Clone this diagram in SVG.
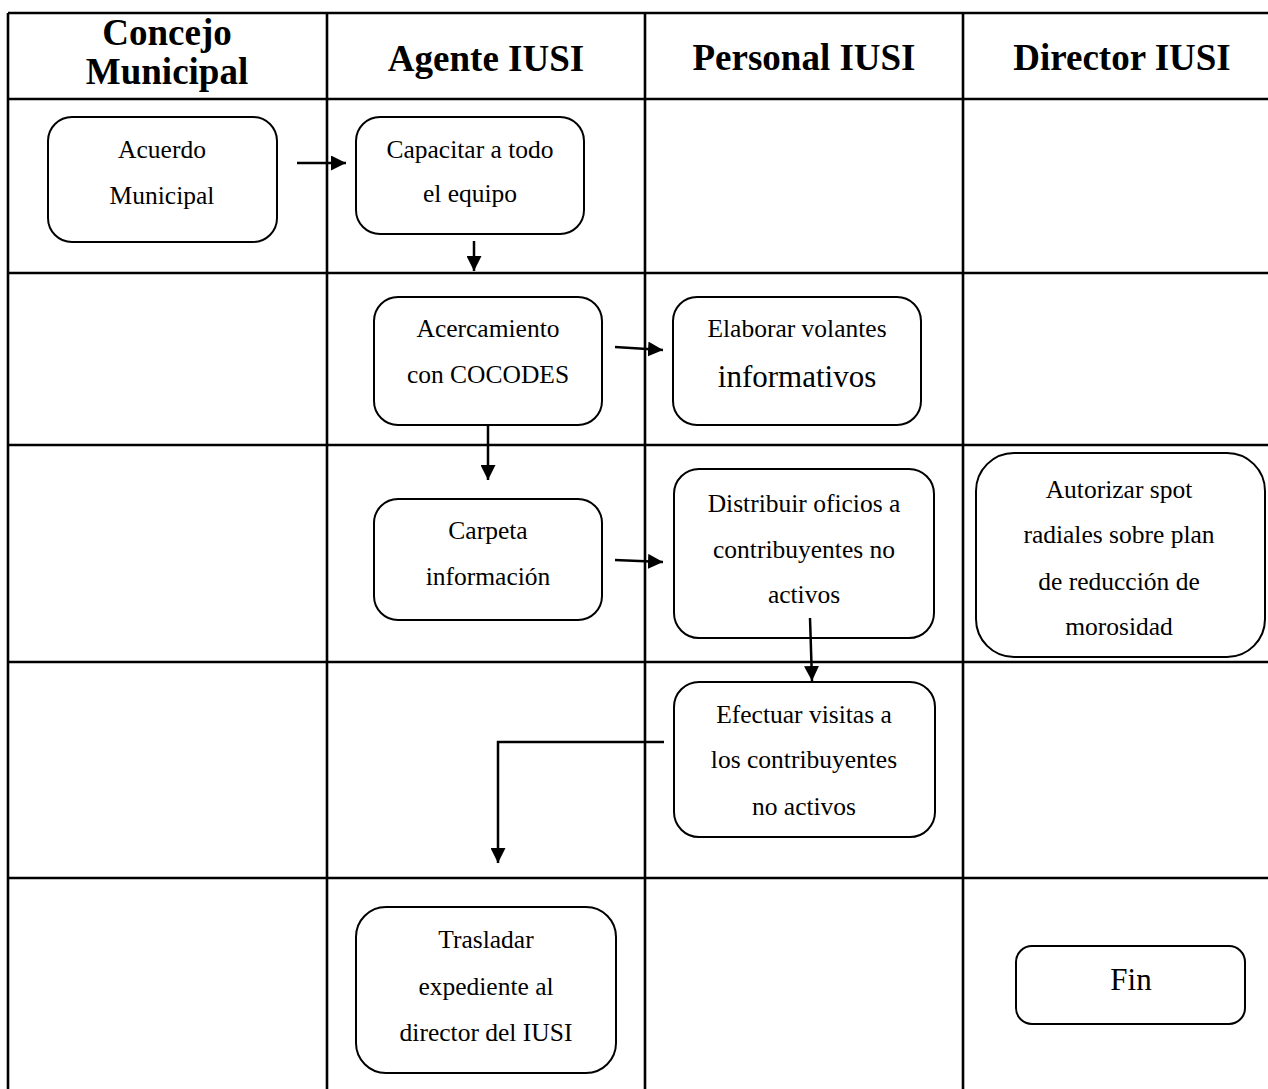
<svg xmlns="http://www.w3.org/2000/svg" width="1268" height="1089" viewBox="0 0 1268 1089">
<defs>
<marker id="ah" markerUnits="userSpaceOnUse" markerWidth="16" markerHeight="15" refX="15" refY="7.5" orient="auto">
<path d="M0,0 L15,7.5 L0,15 z" fill="#000"/>
</marker>
<style>
.grid{stroke:#000;stroke-width:2.6;fill:none}
.box{fill:#fff;stroke:#000;stroke-width:2}
.hd{font-family:"Liberation Serif","Times New Roman",serif;font-weight:bold;font-size:37px;fill:#000;text-anchor:middle}
.tx{font-family:"Liberation Serif","Times New Roman",serif;font-size:25.5px;fill:#000;text-anchor:middle}
.big{font-size:31px}
.cn{stroke:#000;stroke-width:2.5;fill:none;marker-end:url(#ah)}
</style>
</defs>
<rect width="1268" height="1089" fill="#fff"/>
<g id="table">
<path class="grid" d="M8,13 H1268 M8,99 H1268 M8,273 H1268 M8,445 H1268 M8,662 H1268 M8,878 H1268 M8,13 V1089 M327,13 V1089 M645,13 V1089 M963,13 V1089"/>
</g>
<g id="headers">
<text class="hd" x="167" y="45">Concejo</text>
<text class="hd" x="167" y="84">Municipal</text>
<text class="hd" x="486" y="71">Agente IUSI</text>
<text class="hd" x="804" y="70">Personal IUSI</text>
<text class="hd" x="1122" y="70">Director IUSI</text>
</g>
<g id="acuerdo">
<rect class="box" x="48" y="117" width="229" height="125" rx="24"/>
<text class="tx" x="162" y="158">Acuerdo</text>
<text class="tx" x="162" y="204">Municipal</text>
</g>
<g id="capacitar">
<rect class="box" x="356" y="117" width="228" height="117" rx="24"/>
<text class="tx" x="470" y="158">Capacitar a todo</text>
<text class="tx" x="470" y="202">el equipo</text>
</g>
<g id="acercamiento">
<rect class="box" x="374" y="297" width="228" height="128" rx="24"/>
<text class="tx" x="488" y="337">Acercamiento</text>
<text class="tx" x="488" y="383">con COCODES</text>
</g>
<g id="elaborar">
<rect class="box" x="673" y="297" width="248" height="128" rx="24"/>
<text class="tx" x="797" y="337">Elaborar volantes</text>
<text class="tx big" x="797" y="387">informativos</text>
</g>
<g id="carpeta">
<rect class="box" x="374" y="499" width="228" height="121" rx="24"/>
<text class="tx" x="488" y="539">Carpeta</text>
<text class="tx" x="488" y="585">información</text>
</g>
<g id="distribuir">
<rect class="box" x="674" y="469" width="260" height="169" rx="25"/>
<text class="tx" x="804" y="512">Distribuir oficios a</text>
<text class="tx" x="804" y="558">contribuyentes no</text>
<text class="tx" x="804" y="603">activos</text>
</g>
<g id="autorizar">
<rect class="box" x="976" y="453" width="289" height="204" rx="38"/>
<text class="tx" x="1119" y="498">Autorizar spot</text>
<text class="tx" x="1119" y="543">radiales sobre plan</text>
<text class="tx" x="1119" y="590">de reducción de</text>
<text class="tx" x="1119" y="635">morosidad</text>
</g>
<g id="efectuar">
<rect class="box" x="674" y="682" width="261" height="155" rx="25"/>
<text class="tx" x="804" y="723">Efectuar visitas a</text>
<text class="tx" x="804" y="768">los contribuyentes</text>
<text class="tx" x="804" y="815">no activos</text>
</g>
<g id="trasladar">
<rect class="box" x="356" y="907" width="260" height="166" rx="30"/>
<text class="tx" x="486" y="948">Trasladar</text>
<text class="tx" x="486" y="995">expediente al</text>
<text class="tx" x="486" y="1041">director del IUSI</text>
</g>
<g id="fin">
<rect class="box" x="1016" y="946" width="229" height="78" rx="16"/>
<text class="tx big" x="1131" y="990">Fin</text>
</g>
<g id="connectors">
<line class="cn" x1="297" y1="163" x2="346" y2="163"/>
<line class="cn" x1="474" y1="241" x2="474" y2="271"/>
<line class="cn" x1="615" y1="347" x2="663" y2="350"/>
<line class="cn" x1="488" y1="425" x2="488" y2="480"/>
<line class="cn" x1="615" y1="560" x2="663" y2="562"/>
<line class="cn" x1="810" y1="618" x2="812" y2="681"/>
<polyline class="cn" points="664,742 498,742 498,863"/>
</g>
</svg>
